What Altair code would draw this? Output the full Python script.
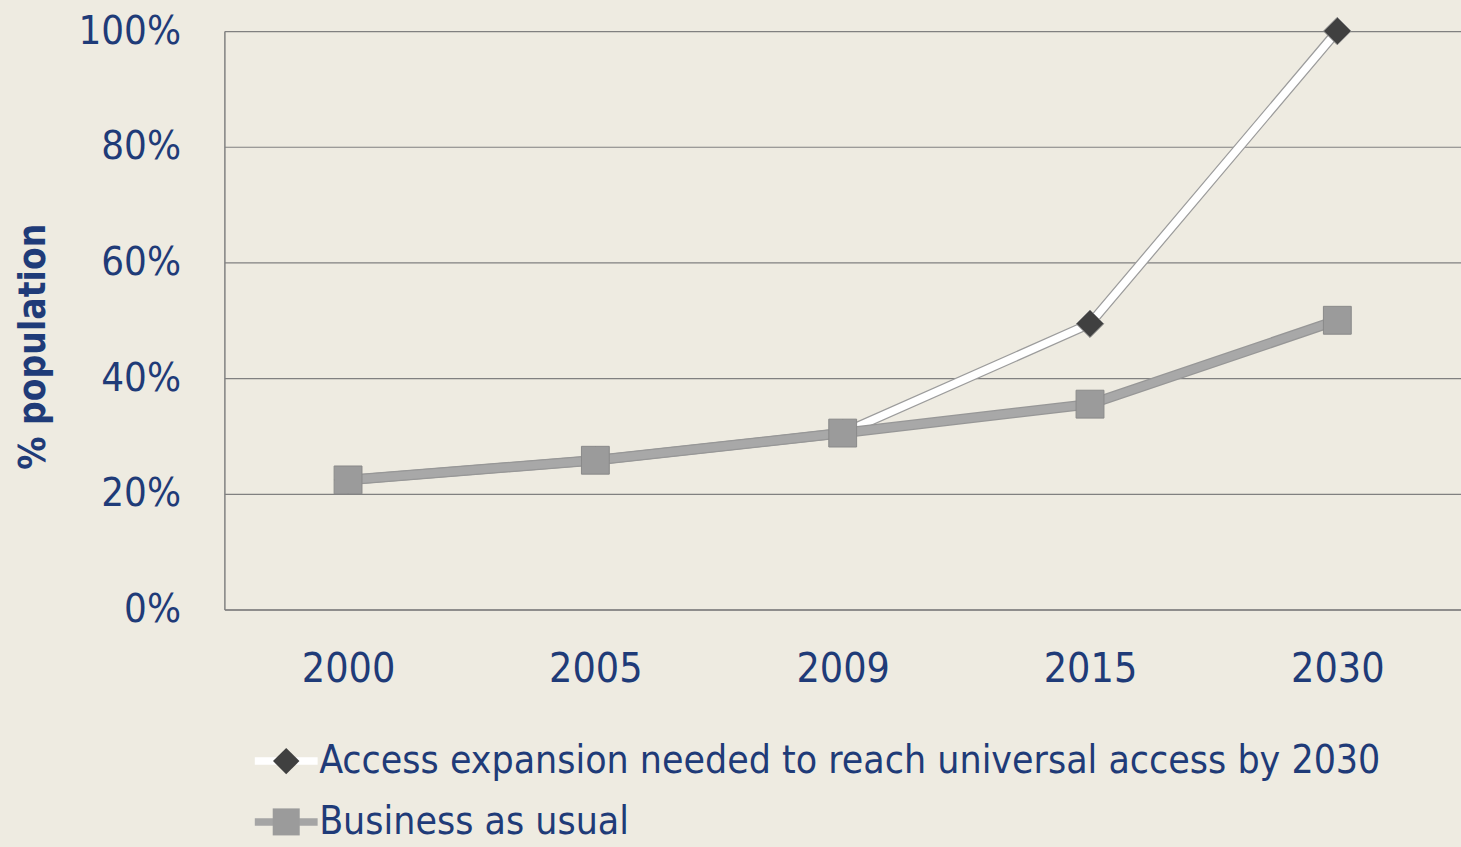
import altair as alt
import pandas as pd
import jinja2

years = ["2000", "2005", "2009", "2015", "2030"]
access = [22.4, 25.8, 30.5, 49.4, 100.0]
bau = [22.4, 25.8, 30.5, 35.5, 50.0]
s_access = "Access expansion needed to reach universal access by 2030"
s_bau = "Business as usual"
series_order = [s_access, s_bau]

df = pd.DataFrame({
    "year": years * 2,
    "value": access + bau,
    "series": [s_access] * 5 + [s_bau] * 5,
    "order": list(range(5)) * 2,
})

FONT = "Liberation Sans Narrow, Arial Narrow, DejaVu Sans Condensed, sans-serif"
NAVY = "#1F3B78"
BG = "#EEEBE1"
GRID = "#808080"

x = alt.X("year:N", sort=years, scale=alt.Scale(type="point", padding=0.5),
          axis=alt.Axis(title=None, ticks=False, labelAngle=0, labelFontSize=41,
                        labelPadding=40, labelColor=NAVY, labelFont=FONT,
                        domainColor=GRID, domainWidth=1.5, grid=False))
y = alt.Y("value:Q", scale=alt.Scale(domain=[0, 100]),
          axis=alt.Axis(values=[0, 20, 40, 60, 80, 100], labelExpr="datum.value + '%'",
                        ticks=False, labelFontSize=40, labelPadding=44, labelColor=NAVY,
                        labelFont=FONT, domainColor=GRID, domainWidth=1.5,
                        gridColor=GRID, gridWidth=1.2,
                        title="% population", titleFont=FONT, titleFontSize=37,
                        titleFontWeight="bold", titleColor=NAVY, titleAngle=-90,
                        titleX=-180, titleY=316, titleAlign="center",
                        titleBaseline="alphabetic"))

base = alt.Chart(df).encode(x=x, y=y, order="order:Q")
acc = base.transform_filter(alt.datum.series == s_access)
bus = base.transform_filter(alt.datum.series == s_bau)

acc_outline = acc.mark_line(color="#9C9C9C", strokeWidth=10, strokeCap="round")
acc_line = acc.mark_line(color="#FFFFFF", strokeWidth=7.5, strokeCap="round")
bau_outline = bus.mark_line(color="#979797", strokeWidth=10.5, strokeCap="round")
bau_line = bus.mark_line(color="#A8A8A8", strokeWidth=8, strokeCap="round")

points = base.mark_point(filled=True, opacity=1, strokeWidth=1).encode(
    shape=alt.Shape("series:N", sort=series_order,
                    scale=alt.Scale(domain=series_order, range=["diamond", "square"]),
                    legend=None),
    color=alt.Color("series:N", sort=series_order,
                    scale=alt.Scale(domain=series_order, range=["#404040", "#9B9B9B"]),
                    legend=None),
    size=alt.Size("series:N", scale=alt.Scale(domain=series_order, range=[760, 780]),
                  legend=None),
    stroke=alt.value("#8A8A8A"),
)

bar_path = "M-1,-0.12 L1,-0.12 L1,0.12 L-1,0.12 Z"
p_diamond = "M0,-0.42 L0.42,0 L0,0.42 L-0.42,0 Z"
p_square = "M-0.43,-0.43 L0.43,-0.43 L0.43,0.43 L-0.43,0.43 Z"

def legend_props(stroke, label_opacity):
    return alt.Legend(
        title=None, orient="none", legendX=30, legendY=700, direction="vertical",
        labelFont=FONT, labelFontSize=39, labelColor=NAVY, labelOffset=1,
        labelOpacity=label_opacity, symbolSize=3969, symbolOpacity=1,
        symbolStrokeColor=stroke, symbolStrokeWidth=1, rowPadding=9, padding=0,
        labelLimit=0,
    )

def legend_layer(paths, fills, stroke, label_opacity):
    return alt.Chart(df).mark_point(filled=True, opacity=0).encode(
        x=alt.X("year:N", sort=years),
        y=alt.Y("value:Q"),
        shape=alt.Shape("series:N", sort=series_order,
                        scale=alt.Scale(domain=series_order, range=paths),
                        legend=legend_props(stroke, label_opacity)),
        color=alt.Color("series:N", sort=series_order,
                        scale=alt.Scale(domain=series_order, range=fills),
                        legend=legend_props(stroke, label_opacity)),
    )

legend_lines = legend_layer([bar_path, bar_path], ["#FFFFFF", "#A5A5A5"], "#9A9A9A", 0)
legend_marks = legend_layer([p_diamond, p_square], ["#404040", "#9B9B9B"], "#8A8A8A", 1)

chart = alt.layer(
    acc_outline, acc_line, bau_outline, bau_line, points, legend_lines, legend_marks
).resolve_scale(shape="independent", color="independent", size="independent").resolve_legend(
    shape="independent", color="independent"
).properties(
    width=1240, height=580, background=BG,
    padding={"left": 225, "top": 30, "right": 0, "bottom": 237},
    autosize=alt.AutoSizeParams(type="none"),
).configure_view(stroke=None)

PAGE = jinja2.Template("""<!DOCTYPE html>
<html>
<head>
  <style>
    html, body { margin: 0; padding: 0; background: #EEEBE1; overflow: hidden; }
    #{{ output_div }}.vega-embed { width: 100%; display: flex; }
  </style>
  <script type="text/javascript" src="{{ base_url }}/vega@{{ vega_version }}"></script>
  <script type="text/javascript" src="{{ base_url }}/vega-lite@{{ vegalite_version }}"></script>
  <script type="text/javascript" src="{{ base_url }}/vega-embed@{{ vegaembed_version }}"></script>
</head>
<body>
  <div id="{{ output_div }}"></div>
  <script type="text/javascript">
    var spec = {{ spec }};
    var embedOpt = {{ embed_options }};
    vegaEmbed("#{{ output_div }}", spec, embedOpt).catch(function (err) { console.error(err); });
  </script>
</body>
</html>
""")

try:
    chart.save("out.html", embed_options={"renderer": "svg", "actions": False}, template=PAGE)
except Exception:
    chart.save("out.html", embed_options={"renderer": "svg", "actions": False})
